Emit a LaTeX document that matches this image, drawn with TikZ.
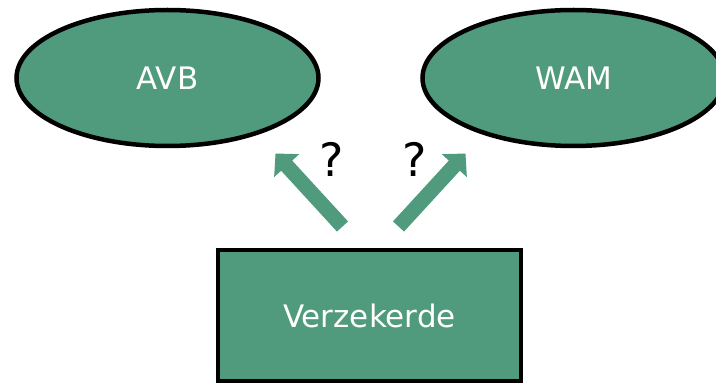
\documentclass[tikz,border=0pt]{standalone}
\usepackage{fontspec}
\setmainfont{DejaVu Sans}
\usetikzlibrary{shapes.geometric,arrows.meta}
\definecolor{teal1}{HTML}{509A7E}
\tikzset{
  oval/.style={ellipse, draw=black, line width=4.5pt, fill=teal1, inner sep=0pt,
    minimum width=302pt, minimum height=136pt, text=white,
    font=\fontsize{31}{37}\selectfont},
  boxnode/.style={rectangle, draw=black, line width=4pt, fill=teal1, inner sep=0pt,
    minimum width=303pt, minimum height=131pt, text=white,
    font=\fontsize{31}{37}\selectfont},
  blockarrow/.style={draw=teal1, line width=15pt,
    -{Triangle[length=16.5pt, width=33pt]}},
  qmark/.style={inner sep=0pt, font=\fontsize{46}{50}\selectfont}
}
\begin{document}
\begin{tikzpicture}[x=1pt,y=-1pt]
\useasboundingbox (0,0) rectangle (716,385);
\node[oval] (avb) at (167.5,78) {AVB};
\node[oval] (wam) at (573.5,78) {WAM};
\node[boxnode] (verz) at (369.5,315.5) {Verzekerde};
\coordinate (t1) at (342.5,226.5);
\coordinate (h1) at (275.5,153.5);
\coordinate (t2) at (398.5,226.5);
\coordinate (h2) at (465.5,153.5);
\draw[blockarrow] (t1) -- (h1);
\draw[blockarrow] (t2) -- (h2);
\node[qmark] (q1) at (332,159) {?};
\node[qmark] (q2) at (414.5,159) {?};
\end{tikzpicture}
\end{document}
